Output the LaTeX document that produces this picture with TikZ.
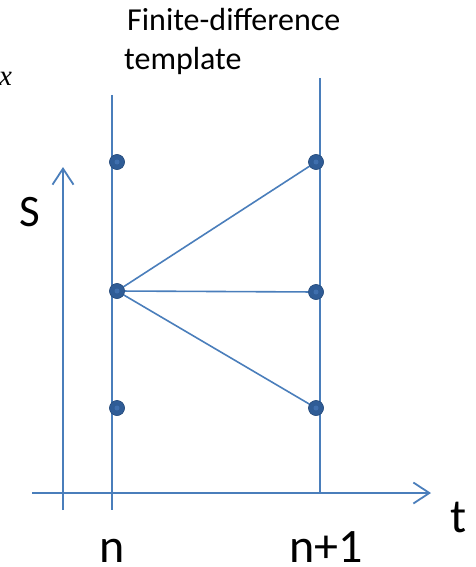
\documentclass[tikz,border=0pt]{standalone}
\usepackage{fontspec}
\setmainfont{Carlito}
\newfontfamily\serifit{Liberation Serif}
\usetikzlibrary{arrows.meta}
\definecolor{lineblue}{HTML}{4A7EBB}
\definecolor{dotblue}{HTML}{2F5C96}
\definecolor{dotcore}{HTML}{3F6FAE}
\tikzset{
  gridline/.style={draw=lineblue, line width=1.8pt},
  linkline/.style={draw=lineblue, line width=1.6pt},
  axisline/.style={draw=lineblue, line width=1.8pt, -{Straight Barb[length=16pt,width=21pt,line width=1.8pt]}},
  dotnode/.style={circle, fill=dotblue, draw=dotblue!80!black, line width=0.4pt, minimum size=15pt, inner sep=0pt,
     path picture={\fill[dotcore] (path picture bounding box.center) circle (2.5pt);}},
  label/.style={inner sep=0pt, text=black},
}
\begin{document}
\begin{tikzpicture}[x=1pt,y=-1pt]
\useasboundingbox (0,0) rectangle (475,567);
% vertical time lines
\coordinate (Ltop) at (112,95);
\coordinate (Lbot) at (112,510);
\coordinate (Rtop) at (320,78);
\coordinate (Rbot) at (320,493);
\draw[gridline] (Ltop) -- (Lbot);
\draw[gridline] (Rtop) -- (Rbot);
% axes
\coordinate (Tstart) at (32,493);
\coordinate (Tend) at (431,493);
\coordinate (Sstart) at (63,510);
\coordinate (Send) at (63,167);
\draw[axisline] (Tstart) -- (Tend);
\draw[axisline] (Sstart) -- (Send);
% grid points
\node[dotnode] (l1) at (117,162) {};
\node[dotnode] (l2) at (117,291) {};
\node[dotnode] (l3) at (117,408) {};
\node[dotnode] (r1) at (316,162) {};
\node[dotnode] (r2) at (316,292) {};
\node[dotnode] (r3) at (316,408) {};
% connectors
\draw[linkline] (l2.center) -- (r1.center);
\draw[linkline] (l2.center) -- (r2.center);
\draw[linkline] (l2.center) -- (r3.center);
\foreach \n in {l1,l2,l3,r1,r2,r3} \node[dotnode] at (\n) {};
% labels
\node[label, font=\fontsize{32}{39}\selectfont, anchor=base west] (title1) at (127,31) {Finite-difference};
\node[label, font=\fontsize{32}{39}\selectfont, anchor=base west] (title2) at (124,70) {template};
\node[label, font=\serifit\itshape\fontsize{29}{32}\selectfont, anchor=base west] (xlab) at (-1,86) {x};
\node[label, font=\fontsize{45}{50}\selectfont, anchor=base] (slab) at (30,226) {S};
\node[label, font=\fontsize{48}{52}\selectfont, anchor=base] (tlab) at (459,532) {t};
\node[label, font=\fontsize{48}{52}\selectfont, anchor=base] (nlab) at (112,562) {n};
\node[label, font=\fontsize{48}{52}\selectfont, anchor=base] (n1lab) at (326,562) {n+1};
\end{tikzpicture}
\end{document}
